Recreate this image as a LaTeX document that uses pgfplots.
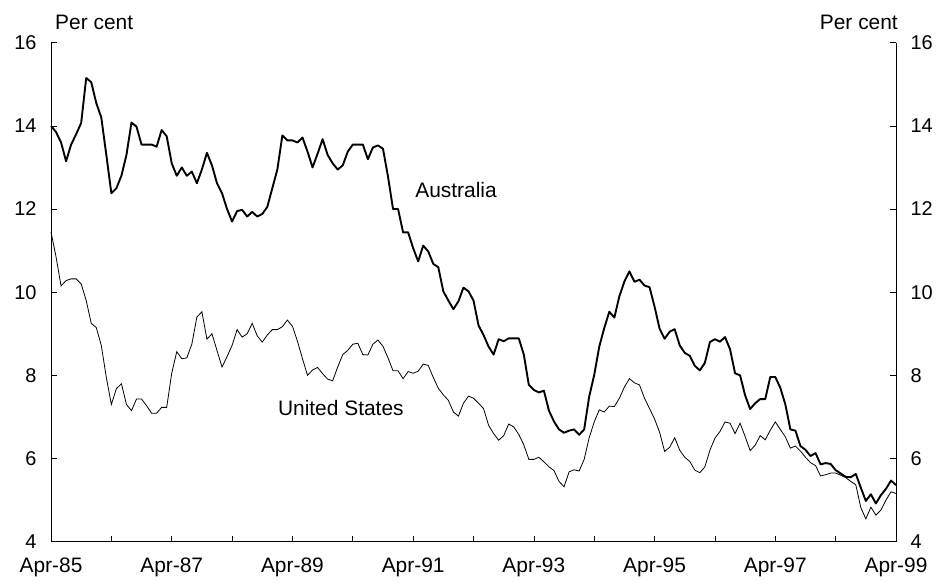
\documentclass[border=0pt]{standalone}
\usepackage{fontspec}
\setmainfont{Liberation Sans}
\usepackage{pgfplots}
\pgfplotsset{compat=1.18}
\usepackage{pgfplotstable}

\pgfplotstableread{
m aus us
0 14.0 11.45
1 13.85 10.85
2 13.6 10.15
3 13.15 10.28
4 13.55 10.32
5 13.8 10.32
6 14.07 10.2
7 15.15 9.8
8 15.05 9.25
9 14.55 9.15
10 14.2 8.72
11 13.3 7.95
12 12.38 7.3
13 12.5 7.68
14 12.8 7.8
15 13.3 7.3
16 14.08 7.15
17 13.98 7.43
18 13.55 7.43
19 13.55 7.27
20 13.55 7.09
21 13.5 7.09
22 13.9 7.23
23 13.75 7.23
24 13.1 8.05
25 12.8 8.57
26 13.0 8.4
27 12.8 8.42
28 12.9 8.75
29 12.62 9.4
30 12.95 9.53
31 13.35 8.87
32 13.05 9.0
33 12.62 8.6
34 12.38 8.2
35 12.0 8.45
36 11.7 8.72
37 11.95 9.1
38 11.98 8.92
39 11.82 9.0
40 11.93 9.25
41 11.82 8.95
42 11.88 8.8
43 12.05 8.97
44 12.5 9.1
45 12.95 9.1
46 13.77 9.17
47 13.65 9.33
48 13.65 9.18
49 13.6 8.82
50 13.72 8.4
51 13.38 8.0
52 13.0 8.13
53 13.33 8.19
54 13.68 8.04
55 13.3 7.91
56 13.1 7.87
57 12.95 8.2
58 13.05 8.5
59 13.38 8.6
60 13.55 8.75
61 13.55 8.77
62 13.55 8.5
63 13.2 8.49
64 13.48 8.75
65 13.53 8.85
66 13.45 8.7
67 12.78 8.42
68 12.0 8.11
69 12.0 8.11
70 11.44 7.92
71 11.44 8.09
72 11.06 8.05
73 10.74 8.1
74 11.12 8.27
75 10.98 8.24
76 10.68 7.95
77 10.6 7.69
78 10.02 7.53
79 9.8 7.4
80 9.59 7.12
81 9.78 7.02
82 10.11 7.33
83 10.02 7.5
84 9.8 7.45
85 9.2 7.33
86 8.97 7.2
87 8.69 6.8
88 8.5 6.6
89 8.87 6.44
90 8.82 6.55
91 8.89 6.83
92 8.89 6.76
93 8.89 6.58
94 8.5 6.33
95 7.77 5.98
96 7.65 5.98
97 7.59 6.03
98 7.63 5.92
99 7.15 5.8
100 6.89 5.71
101 6.7 5.45
102 6.62 5.32
103 6.67 5.68
104 6.7 5.73
105 6.57 5.7
106 6.7 5.98
107 7.49 6.5
108 8.01 6.88
109 8.69 7.17
110 9.14 7.12
111 9.53 7.26
112 9.39 7.25
113 9.9 7.45
114 10.26 7.72
115 10.5 7.92
116 10.25 7.82
117 10.3 7.77
118 10.16 7.45
119 10.12 7.2
120 9.65 6.95
121 9.12 6.63
122 8.88 6.17
123 9.05 6.27
124 9.11 6.5
125 8.72 6.2
126 8.54 6.03
127 8.47 5.93
128 8.23 5.72
129 8.12 5.66
130 8.3 5.8
131 8.8 6.2
132 8.87 6.49
133 8.81 6.65
134 8.92 6.88
135 8.63 6.85
136 8.05 6.6
137 8.0 6.85
138 7.52 6.53
139 7.19 6.19
140 7.33 6.32
141 7.43 6.55
142 7.43 6.45
143 7.96 6.68
144 7.96 6.88
145 7.7 6.7
146 7.3 6.52
147 6.7 6.25
148 6.67 6.3
149 6.3 6.18
150 6.21 6.03
151 6.06 5.9
152 6.13 5.83
153 5.86 5.58
154 5.89 5.61
155 5.87 5.65
156 5.72 5.65
157 5.64 5.6
158 5.56 5.54
159 5.55 5.45
160 5.63 5.37
161 5.3 4.82
162 4.98 4.55
163 5.14 4.83
164 4.92 4.64
165 5.12 4.76
166 5.27 5.0
167 5.47 5.2
168 5.36 5.16
}\chartdata

\begin{document}
\begin{tikzpicture}[x=1bp,y=1bp]
\path[use as bounding box] (0,0) rectangle (938,582);
\pgfplotsset{
  common/.style={
    at={(51bp,40.3bp)}, anchor=south west,
    scale only axis, width=845bp, height=499bp,
    xmin=0, xmax=168, ymin=4, ymax=16,
    tick align=inside,
    ytick={4,6,...,16},
    major tick length=6bp,
    tick style={black, line width=0.6bp},
    axis line style={black, line width=0.7bp},
    /pgf/number format/assume math mode=true,
    every tick label/.append style={font=\fontsize{20}{24}\selectfont},
  }
}
\begin{axis}[common,
  axis x line*=bottom, axis y line*=left,
  xtick={0,12,...,168},
  xticklabels={Apr-85,,Apr-87,,Apr-89,,Apr-91,,Apr-93,,Apr-95,,Apr-97,,Apr-99},
  xticklabel style={yshift=-13bp, font=\fontsize{21}{24}\selectfont},
  yticklabel style={xshift=-11bp},
  clip=false,
]
\addplot[black, line width=0.8bp] table[x=m, y=us] {\chartdata};
\addplot[black, line width=1.9bp, line join=round] table[x=m, y=aus] {\chartdata};
\node[anchor=west, inner sep=0pt, font=\fontsize{21}{24}\selectfont] at (axis cs:72.4,12.46) {Australia};
\node[anchor=west, inner sep=0pt, font=\fontsize{21}{24}\selectfont] at (axis cs:45.1,7.22) {United States};
\node[anchor=base west, inner sep=0pt, font=\fontsize{21}{24}\selectfont] at ([xshift=4bp, yshift=13bp]rel axis cs:0,1) {Per cent};
\node[anchor=base east, inner sep=0pt, font=\fontsize{21}{24}\selectfont] at ([xshift=2bp, yshift=13bp]rel axis cs:1,1) {Per cent};
\end{axis}
\begin{axis}[common,
  axis x line=none, axis y line*=right,
  yticklabel style={xshift=11bp},
]
\end{axis}
\end{tikzpicture}
\end{document}
